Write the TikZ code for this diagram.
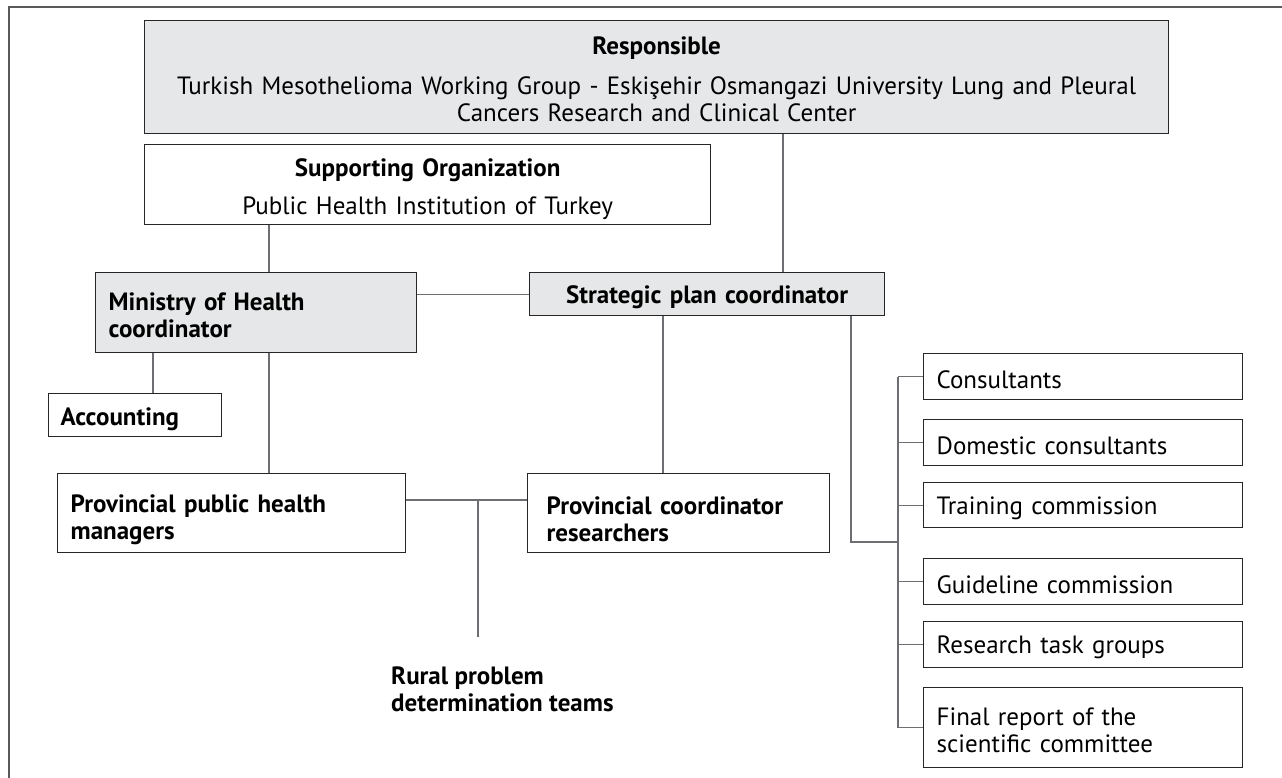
\documentclass[tikz,border=0pt]{standalone}
\usepackage{fontspec}
\setmainfont{PT Sans}
\definecolor{boxgray}{HTML}{E6E7E8}
\definecolor{linegray}{HTML}{6D6E71}
\definecolor{framegray}{HTML}{58595B}
\tikzset{
  push/.style={execute at begin node={\rule{0pt}{#1}}},
  box/.style={draw=black!85, line width=1.3pt, anchor=north west, inner xsep=13pt, inner ysep=0pt, align=left, push=23pt},
  shaded/.style={box, fill=boxgray},
  head/.style={font=\bfseries},
  link/.style={draw=linegray, line width=1.2pt}
}
\begin{document}
\begin{tikzpicture}[x=1pt,y=-1pt]\fontsize{25}{27}\selectfont
\useasboundingbox (0,0) rectangle (1282,778);
\draw[framegray,line width=2pt] (9,778) -- (9,7) -- (1282,7);
\node[shaded,text width=998pt,minimum height=113pt,align=center] (resp) at (144,20)
  {\textbf{Responsible}\\[13pt]\mbox{Turkish Mesothelioma Working Group - Eskişehir Osmangazi University Lung and Pleural}\\Cancers Research and Clinical Center};
\node[box,push=27pt,text width=540pt,minimum height=80pt,align=center] (sup) at (144,144)
  {\textbf{Supporting Organization}\\[11pt]Public Health Institution of Turkey};
\node[shaded,head,text width=295pt,minimum height=80pt] (moh) at (95,272) {Ministry of Health\\coordinator};
\node[shaded,head,text width=329pt,minimum height=43pt,align=center] (strat) at (529,272) {Strategic plan coordinator};
\node[box,head,push=26pt,inner xsep=12pt,text width=149pt,minimum height=43pt] (acc) at (48,393) {Accounting};
\node[box,head,push=30pt,text width=322pt,minimum height=79pt] (pph) at (57,473) {Provincial public health\\managers};
\node[box,head,push=30pt,inner xsep=19pt,text width=264pt,minimum height=79pt] (pcr) at (527,473) {Provincial coordinator\\researchers};
\node[head,anchor=north west,inner sep=0pt,align=left] (rural) at (391,667) {Rural problem\\determination teams};
\foreach \nm/\yy/\hh/\txt in {cons/353/46/Consultants,dom/419/46/Domestic consultants,%
    train/482/45/Training commission,guide/558/46/Guideline commission,%
    task/621/46/Research task groups,fin/687/80/{Final report of the\\scientific committee}}
  \node[box,text width=293pt,minimum height=\hh pt] (\nm) at (923,\yy) {\txt};
\coordinate (ca) at (269,0); \coordinate (cb) at (153,0); \coordinate (cc) at (783,0);
\coordinate (cd) at (663,0); \coordinate (ce) at (851,0);
\coordinate (jn) at (478,500); \coordinate (br) at (898,542);
\draw[link] (ca |- sup.south) -- (ca |- moh.north);
\draw[link] (cb |- moh.south) -- (cb |- acc.north);
\draw[link] (ca |- moh.south) -- (ca |- pph.north);
\draw[link] (cc |- resp.south) -- (cc |- strat.north);
\draw[link] (moh.east |- strat.west) -- (strat.west);
\draw[link] (cd |- strat.south) -- (cd |- pcr.north);
\draw[link] (ce |- strat.south) |- (br);
\draw[link] (jn -| pph.east) -- (jn -| pcr.west);
\draw[link,shorten >=30pt] (jn) -- (jn |- rural.north);
\draw[link] (br |- cons.west) -- (br |- fin.west);
\foreach \nm in {cons,dom,train,guide,task,fin} \draw[link] (br |- \nm.west) -- (\nm.west);
\end{tikzpicture}
\end{document}
